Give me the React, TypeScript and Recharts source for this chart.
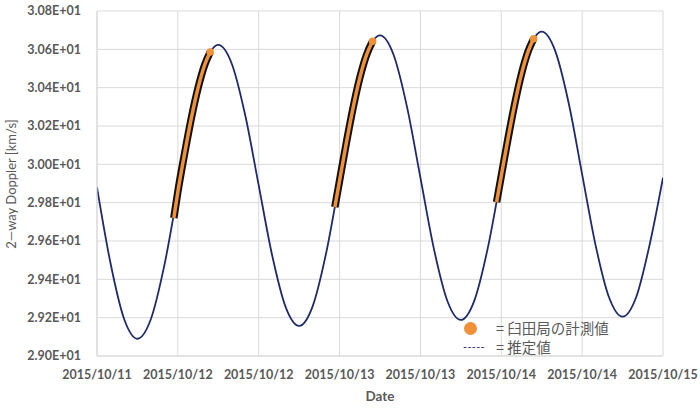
import React from 'react';
import { ComposedChart, Line, XAxis, YAxis, CartesianGrid, Label } from 'recharts';

// Hours since the left edge of the axis (axis spans 84 h, ticks every 12 h)
const hours = [0, 2, 4, 6, 8, 10, 12, 14, 16, 18, 20, 22, 24, 26, 28, 30, 32, 34, 36, 38, 40, 42, 44, 46, 48, 50, 52, 54, 56, 58, 60, 62, 64, 66, 68, 70, 72, 74, 76, 78, 80, 82, 84];
// Estimated 2-way Doppler [km/s]
const estimated = [29.88, 29.485, 29.196, 29.09, 29.193, 29.474, 29.857, 30.24, 30.521, 30.623, 30.525, 30.256, 29.89, 29.524, 29.255, 29.157, 29.259, 29.536, 29.915, 30.294, 30.571, 30.673, 30.573, 30.301, 29.93, 29.559, 29.287, 29.188, 29.289, 29.564, 29.94, 30.316, 30.591, 30.692, 30.592, 30.32, 29.948, 29.577, 29.305, 29.205, 29.305, 29.578, 29.93];

// Usuda station measurements (three passes)
const pass1Hours = [11.4, 12, 13, 14, 15, 16, 16.8];
const pass1Values = [29.72, 29.857, 30.056, 30.241, 30.399, 30.521, 30.586];
const pass2Hours = [35.3, 36, 37, 38, 39, 40, 40.9];
const pass2Values = [29.777, 29.915, 30.111, 30.294, 30.451, 30.571, 30.642];
const pass3Hours = [59.3, 60, 61, 62, 63, 64, 64.8];
const pass3Values = [29.803, 29.94, 30.135, 30.316, 30.472, 30.591, 30.655];

const xTicks = [0, 12, 24, 36, 48, 60, 72, 84];
const xTickLabels = ['2015/10/11', '2015/10/12', '2015/10/12', '2015/10/13', '2015/10/13', '2015/10/14', '2015/10/14', '2015/10/15'];
const yTicks = [29.0, 29.2, 29.4, 29.6, 29.8, 30.0, 30.2, 30.4, 30.6, 30.8];
const yTickLabels = ['2.90E+01', '2.92E+01', '2.94E+01', '2.96E+01', '2.98E+01', '3.00E+01', '3.02E+01', '3.04E+01', '3.06E+01', '3.08E+01'];

const estData = hours.map((t, i) => ({ t, v: estimated[i] }));
const mk = (hs: number[], vs: number[]) => hs.map((t, i) => ({ t, v: vs[i] }));
const passes = [mk(pass1Hours, pass1Values), mk(pass2Hours, pass2Values), mk(pass3Hours, pass3Values)];

const NAVY = '#1f2a6a';
const ORANGE = '#f0913a';
const GRAY = '#595959';
const GRID = '#d9d9d9';

const tickStyle = { fontFamily: 'Lato, "Open Sans", sans-serif', fontWeight: 700, fontSize: 12.5, fill: GRAY };

export default function App() {
  return (
    <div style={{ position: 'absolute', left: 0, top: 0, width: 700, height: 408, background: '#fff' }}>
      <ComposedChart width={700} height={408} margin={{ top: 11, right: 37, left: 0, bottom: 0 }}>
        <CartesianGrid stroke={GRID} strokeWidth={1} vertical={true} horizontal={true} />
        <XAxis
          type="number"
          dataKey="t"
          domain={[0, 84]}
          ticks={xTicks}
          tickFormatter={(v: number) => xTickLabels[xTicks.indexOf(v)]}
          height={52}
          tickSize={0}
          tickMargin={14}
          tickLine={false}
          axisLine={{ stroke: GRID }}
          tick={tickStyle}
          interval={0}
          allowDataOverflow
        >
          <Label value="Date" position="insideBottom" offset={7} style={{ fontFamily: 'Lato, sans-serif', fontWeight: 700, fontSize: 13.5, fill: GRAY }} />
        </XAxis>
        <YAxis
          type="number"
          domain={[29.0, 30.8]}
          ticks={yTicks}
          tickFormatter={(v: number) => yTickLabels[yTicks.findIndex((y) => Math.abs(y - v) < 1e-6)]}
          width={97}
          tickSize={0}
          tickMargin={16}
          tickLine={false}
          axisLine={{ stroke: GRID }}
          tick={tickStyle}
          interval={0}
          allowDataOverflow
        >
          <Label
            content={() => (
              <text
                x={11}
                y={184}
                transform="rotate(-90, 11, 184)"
                textAnchor="middle"
                dominantBaseline="central"
                style={{ fontFamily: 'Lato, sans-serif', fontSize: 13, fill: GRAY }}
              >
                2—way Doppler [km/s]
              </text>
            )}
          />
        </YAxis>
        <Line
          data={estData}
          dataKey="v"
          type="monotone"
          stroke={NAVY}
          strokeWidth={1.8}
          dot={false}
          activeDot={false}
          isAnimationActive={false}
        />
        {passes.map((p, k) => (
          <Line
            key={'b' + k}
            data={p}
            dataKey="v"
            type="monotone"
            stroke="#111"
            strokeWidth={7.5}
            strokeLinecap="butt"
            dot={false}
            activeDot={false}
            isAnimationActive={false}
          />
        ))}
        {passes.map((p, k) => (
          <Line
            key={'o' + k}
            data={p}
            dataKey="v"
            type="monotone"
            stroke={ORANGE}
            strokeWidth={3.5}
            dot={(props: any) =>
              props.index === p.length - 1 ? (
                <circle key={props.key ?? 'd' + k} cx={props.cx} cy={props.cy} r={3.8} fill={ORANGE} />
              ) : (
                <g key={props.key ?? 'g' + k + '_' + props.index} />
              )
            }
            activeDot={false}
            isAnimationActive={false}
          />
        ))}
      </ComposedChart>
      <div style={{ position: 'absolute', left: 464, top: 322, width: 13, height: 13, borderRadius: '50%', background: ORANGE }} />
      <div style={{ position: 'absolute', left: 496, top: 320, fontFamily: '"Noto Sans CJK JP", sans-serif', fontSize: 14.5, lineHeight: '16px', height: 16, color: GRAY, whiteSpace: 'nowrap' }}>
        = 臼田局の計測値
      </div>
      <div style={{ position: 'absolute', left: 463, top: 341, fontFamily: 'Lato, sans-serif', fontSize: 11, lineHeight: '12px', color: NAVY, whiteSpace: 'nowrap', letterSpacing: 0.3 }}>
        -----
      </div>
      <div style={{ position: 'absolute', left: 496, top: 339, fontFamily: '"Noto Sans CJK JP", sans-serif', fontSize: 14.5, lineHeight: '16px', height: 16, color: GRAY, whiteSpace: 'nowrap' }}>
        = 推定値
      </div>
    </div>
  );
}
